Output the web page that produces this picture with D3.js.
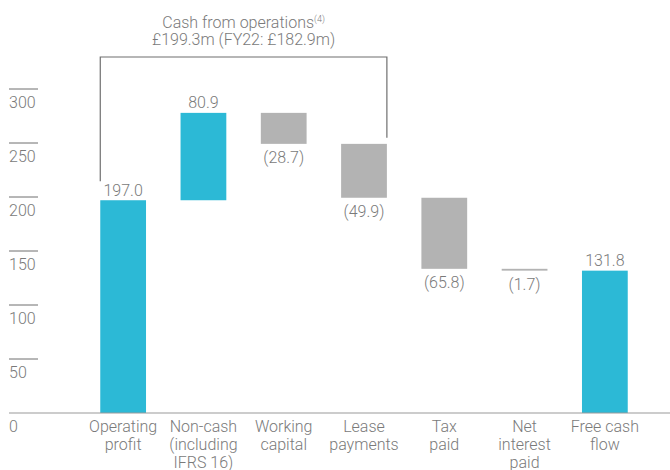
<!DOCTYPE html>
<html>
<head>
<meta charset="utf-8">
<script src="https://cdn.jsdelivr.net/npm/d3@7"></script>
<style>
  body { margin: 0; background: #fff; }
  svg text { font-family: Roboto, "Open Sans", sans-serif; font-weight: 300; fill: #7a7a7a; }
</style>
</head>
<body>
<script>
// data (£m)
const categories = [
    ["Operating", "profit"],
    ["Non-cash", "(including", "IFRS 16)"],
    ["Working", "capital"],
    ["Lease", "payments"],
    ["Tax", "paid"],
    ["Net", "interest", "paid"],
    ["Free cash", "flow"]
];
const values = [197.0, 80.9, -28.7, -49.9, -65.8, -1.7, 131.8];
const isTotal = [true, false, false, false, false, false, true];
const valueLabels = ["197.0", "80.9", "(28.7)", "(49.9)", "(65.8)", "(1.7)", "131.8"];
const yTicks = [0, 50, 100, 150, 200, 250, 300];
const titleLines = ["Cash from operations", "£199.3m (FY22: £182.9m)"];

function main(){
    const width = 670;
    const height = 470;
    const teal = "#2cb9d6";
    const grey = "#b3b3b3";

    const svg = d3.select("body").append("svg")
        .attr("width", width)
        .attr("height", height);

    // waterfall start/end for each step
    let running = 0;
    const steps = values.map((v, i) => {
        let start, end;
        if (isTotal[i]) { start = 0; end = v; running = v; }
        else { start = running; end = running + v; running = end; }
        return {i: i, v: v, start: start, end: end, total: isTotal[i], label: valueLabels[i]};
    });

    const x = d3.scaleBand()
        .domain(d3.range(values.length))
        .range([83, 645])
        .paddingInner(0.43)
        .paddingOuter(0.215);
    const y = d3.scaleLinear().domain([0, 300]).range([413, 89]);

    // y axis: short lines with labels under them
    const tickG = svg.append("g");
    tickG.selectAll("line").data(yTicks.filter(d => d > 0)).join("line")
        .attr("x1", 9).attr("x2", 38)
        .attr("y1", d => y(d)).attr("y2", d => y(d))
        .attr("stroke", "#6f6f6f").attr("stroke-width", 1);
    tickG.selectAll("text").data(yTicks).join("text")
        .attr("x", 9)
        .attr("y", d => y(d) + 19)
        .attr("font-size", "16px")
        .text(d => d);

    // bars
    svg.append("g").selectAll("rect").data(steps).join("rect")
        .attr("x", d => x(d.i))
        .attr("width", x.bandwidth())
        .attr("y", d => y(Math.max(d.start, d.end)))
        .attr("height", d => Math.max(1.5, Math.abs(y(d.start) - y(d.end))))
        .attr("fill", d => d.v >= 0 ? teal : grey);

    // baseline
    svg.append("line")
        .attr("x1", 9).attr("x2", width)
        .attr("y1", y(0)).attr("y2", y(0))
        .attr("stroke", "#9a9a9a").attr("stroke-width", 1.2);

    // value labels
    svg.append("g").selectAll("text").data(steps).join("text")
        .attr("x", d => x(d.i) + x.bandwidth() / 2)
        .attr("y", d => d.v >= 0 ? y(Math.max(d.start, d.end)) - 4.5 : y(Math.min(d.start, d.end)) + 19)
        .attr("text-anchor", "middle")
        .attr("font-size", "16px")
        .text(d => d.label);

    // category labels
    const catG = svg.append("g").selectAll("text").data(categories).join("text")
        .attr("text-anchor", "middle")
        .attr("font-size", "16px");
    catG.selectAll("tspan").data((d, i) => d.map(t => ({t: t, i: i}))).join("tspan")
        .attr("x", d => x(d.i) + x.bandwidth() / 2)
        .attr("y", (d, j) => 431.5 + j * 18.2)
        .text(d => d.t);

    // bracket over cash from operations (first four steps)
    const bx1 = x(0);
    const bx2 = x(3) + x.bandwidth();
    const bTop = 57;
    svg.append("path")
        .attr("d", `M${bx1},${y(steps[0].end) - 19} V${bTop} H${bx2} V${y(steps[3].start) - 6}`)
        .attr("fill", "none")
        .attr("stroke", "#6f6f6f").attr("stroke-width", 1.2);

    // title
    const cx = (bx1 + bx2) / 2;
    const t1 = svg.append("text")
        .attr("x", cx).attr("y", 27.5)
        .attr("text-anchor", "middle")
        .attr("font-size", "16px");
    t1.append("tspan").text(titleLines[0]);
    t1.append("tspan").attr("font-size", "9px").attr("dy", -6).text("(4)");
    svg.append("text")
        .attr("x", cx).attr("y", 45)
        .attr("text-anchor", "middle")
        .attr("font-size", "16px")
        .text(titleLines[1]);
}
main();
</script>
</body>
</html>
